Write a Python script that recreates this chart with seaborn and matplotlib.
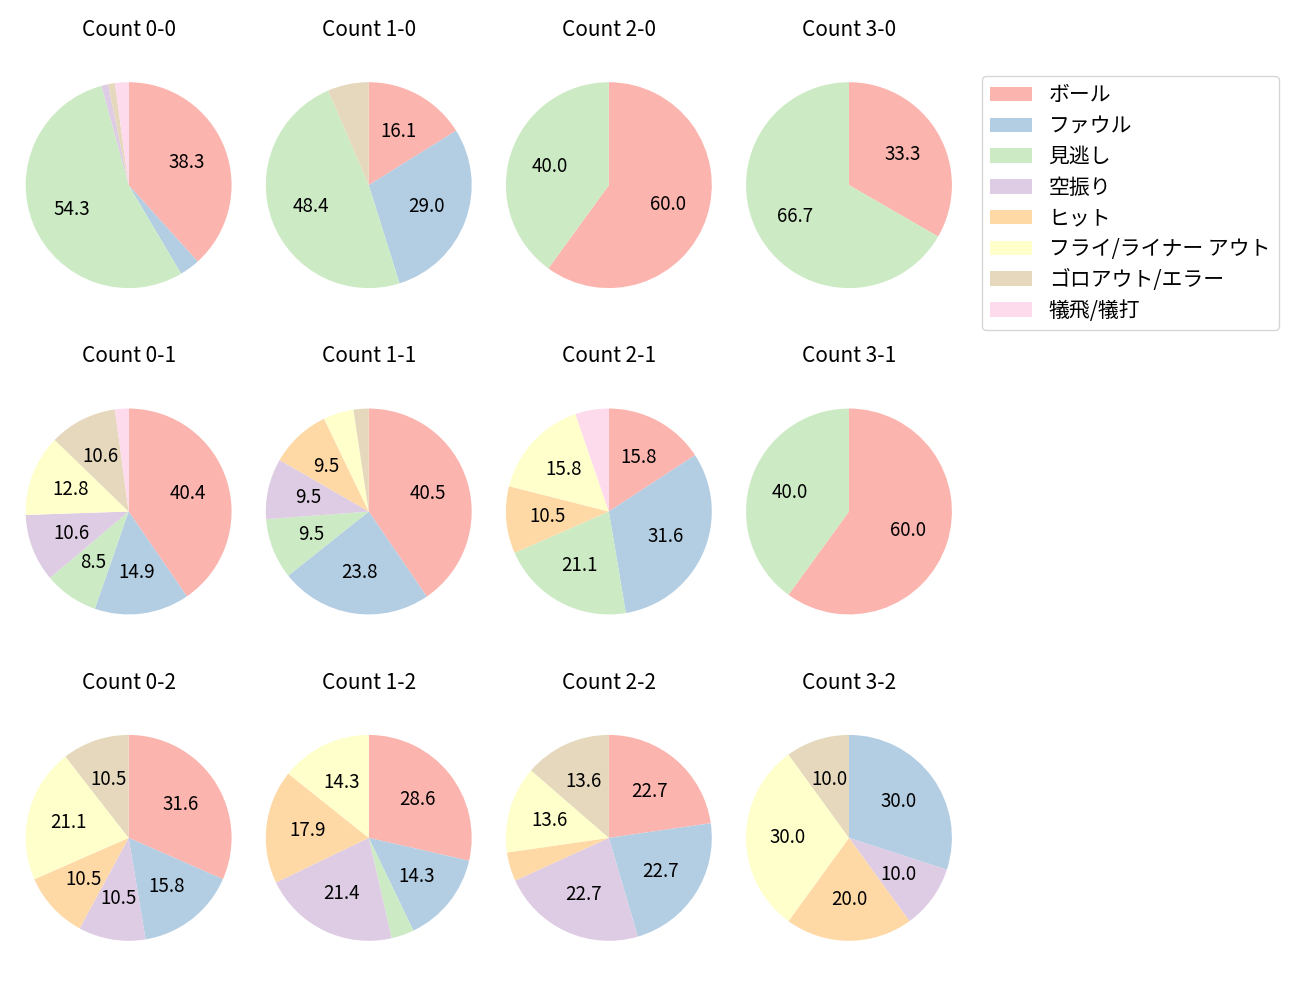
import matplotlib
matplotlib.use('Agg')
import matplotlib.pyplot as plt
import seaborn as sns
from matplotlib.patches import Patch

# 結果カテゴリ
categories = ['ボール', 'ファウル', '見逃し', '空振り', 'ヒット',
              'フライ/ライナー アウト', 'ゴロアウト/エラー', '犠飛/犠打']

# カウント別の件数 (categories の順)
count_00 = [36, 3, 51, 1, 0, 0, 1, 2]
count_10 = [5, 9, 15, 0, 0, 0, 2, 0]
count_20 = [3, 0, 2, 0, 0, 0, 0, 0]
count_30 = [1, 0, 2, 0, 0, 0, 0, 0]
count_01 = [19, 7, 4, 5, 0, 6, 5, 1]
count_11 = [17, 10, 4, 4, 4, 2, 1, 0]
count_21 = [3, 6, 4, 0, 2, 3, 0, 1]
count_31 = [3, 0, 2, 0, 0, 0, 0, 0]
count_02 = [6, 3, 0, 2, 2, 4, 2, 0]
count_12 = [8, 4, 1, 6, 5, 4, 0, 0]
count_22 = [5, 5, 0, 5, 1, 3, 3, 0]
count_32 = [0, 3, 0, 1, 2, 3, 1, 0]

counts = {
    'Count 0-0': count_00, 'Count 1-0': count_10, 'Count 2-0': count_20, 'Count 3-0': count_30,
    'Count 0-1': count_01, 'Count 1-1': count_11, 'Count 2-1': count_21, 'Count 3-1': count_31,
    'Count 0-2': count_02, 'Count 1-2': count_12, 'Count 2-2': count_22, 'Count 3-2': count_32,
}

plt.rcParams['font.family'] = ['Noto Sans CJK JP', 'DejaVu Sans']

colors = sns.color_palette('Pastel1', len(categories))

fig, axes = plt.subplots(3, 4, figsize=(13, 10), dpi=100)
fig.subplots_adjust(left=0.0185, right=0.7335, top=0.958, bottom=0.019, wspace=0.148, hspace=0.14)

for ax, (title, vals) in zip(axes.flat, counts.items()):
    ax.pie(vals, colors=colors, startangle=90, counterclock=False, radius=1.25,
           wedgeprops={'linewidth': 0},
           autopct=lambda p: f'{p:.1f}' if p >= 7 else '',
           textprops={'fontsize': 13.5})
    ax.set_xlim(-1.27, 1.27)
    ax.set_ylim(-1.27, 1.27)
    ax.set_title(title, fontsize=15, pad=32)

handles = [Patch(facecolor=c, label=l) for c, l in zip(colors, categories)]
fig.legend(handles=handles, loc='upper left', bbox_to_anchor=(0.7554, 0.924),
           borderaxespad=0, fontsize=15, labelspacing=0.42)

plt.savefig('out.png')
